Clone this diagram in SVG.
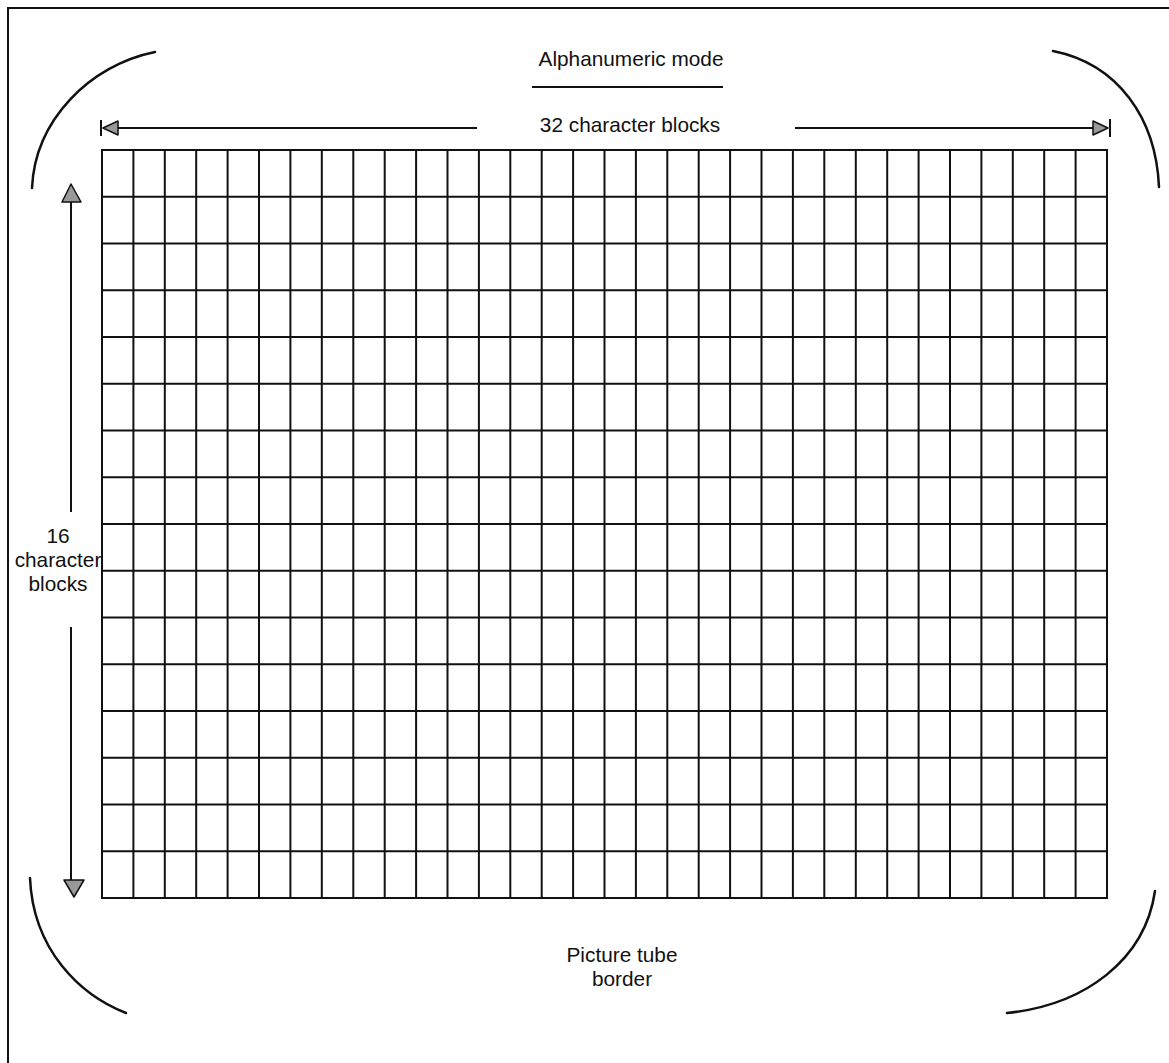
<svg xmlns="http://www.w3.org/2000/svg" width="1169" height="1063" viewBox="0 0 1169 1063">
<style>
.t{font-family:"Liberation Sans",Arial,sans-serif;font-size:20.8px;fill:#111;text-anchor:middle}
.ln{stroke:#111;stroke-width:2;fill:none}
.arc{stroke:#111;stroke-width:2.5;fill:none;stroke-linecap:round}
.head{fill:#999;stroke:#111;stroke-width:1.5;stroke-linejoin:round}
</style>
<rect width="1169" height="1063" fill="#fff"/>
<g id="frame">
<path d="M8,1063 V8 H1169" class="ln" stroke-width="2.5"/>
</g>
<g id="tube-border">
<path class="arc" d="M32,188 C35,120 90,65 155,52"/>
<path class="arc" d="M1053,51 C1118,64 1156,118 1159,187"/>
<path class="arc" d="M30,878 C33,950 80,995 126,1013"/>
<path class="arc" d="M1155,891 C1145,960 1085,1005 1007,1013"/>
</g>
<g id="title">
<text class="t" x="631" y="66">Alphanumeric mode</text>
<line x1="532" y1="87" x2="723" y2="87" class="ln" stroke-width="2.5"/>
</g>
<g id="grid">
<rect x="102" y="150" width="1005" height="748" class="ln" stroke-width="2.5"/>
<path class="ln" d="M133.4,150V898M164.8,150V898M196.2,150V898M227.6,150V898M259.0,150V898M290.4,150V898M321.8,150V898M353.3,150V898M384.7,150V898M416.1,150V898M447.5,150V898M478.9,150V898M510.3,150V898M541.7,150V898M573.1,150V898M604.5,150V898M635.9,150V898M667.3,150V898M698.7,150V898M730.1,150V898M761.5,150V898M792.9,150V898M824.3,150V898M855.8,150V898M887.2,150V898M918.6,150V898M950.0,150V898M981.4,150V898M1012.8,150V898M1044.2,150V898M1075.6,150V898"/>
<path class="ln" d="M102,196.75H1107M102,243.5H1107M102,290.25H1107M102,337H1107M102,383.75H1107M102,430.5H1107M102,477.25H1107M102,524H1107M102,570.75H1107M102,617.5H1107M102,664.25H1107M102,711H1107M102,757.75H1107M102,804.5H1107M102,851.25H1107"/>
</g>
<g id="connectors">
<g id="horizontal-dimension">
<line x1="118" y1="128" x2="477" y2="128" class="ln" stroke-width="1.5"/>
<line x1="795" y1="128" x2="1093" y2="128" class="ln" stroke-width="1.5"/>
<line x1="101" y1="120" x2="101" y2="136" class="ln" stroke-width="2"/>
<polygon class="head" points="103,128 118,121 118,135"/>
<line x1="1110" y1="119" x2="1110" y2="137" class="ln" stroke-width="2"/>
<polygon class="head" points="1108,128 1093,121 1093,135"/>
</g>
<g id="vertical-dimension">
<line x1="71" y1="202" x2="71" y2="512" class="ln" stroke-width="2"/>
<line x1="71" y1="627" x2="71" y2="880" class="ln" stroke-width="2"/>
<polygon class="head" points="71,184 62,202 81,202"/>
<polygon class="head" points="74,897 64,880 84,880"/>
</g>
</g>
<g id="labels">
<text class="t" x="630" y="132">32 character blocks</text>
<text class="t" x="58" y="543">16</text>
<text class="t" x="58" y="567">character</text>
<text class="t" x="58" y="591">blocks</text>
<text class="t" x="622" y="962">Picture tube</text>
<text class="t" x="622" y="986">border</text>
</g>
</svg>
